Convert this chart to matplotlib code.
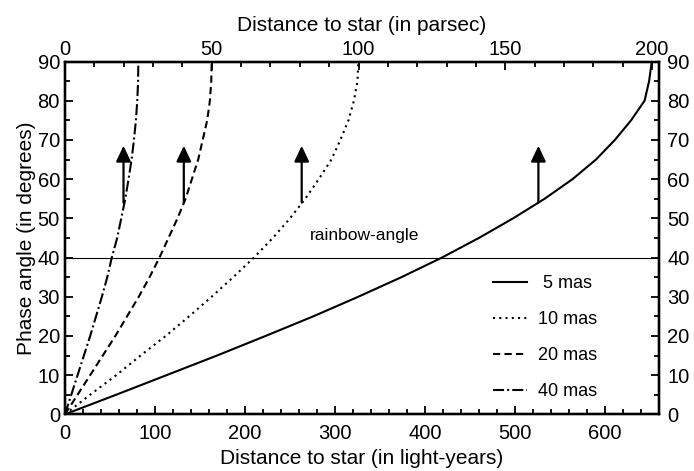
import matplotlib
matplotlib.use("Agg")
import matplotlib.pyplot as plt
from matplotlib.ticker import MultipleLocator

plt.rcParams['font.family'] = ['Liberation Sans', 'DejaVu Sans']

# phase angle samples (degrees) and distances (light-years)
angle = [0, 5, 10, 15, 20, 25, 30, 35, 40, 45, 50, 55, 60, 65, 70, 75, 80, 85, 90]
dist_5mas = [0, 57, 113, 169, 223, 276, 326, 374, 419, 460, 498, 533, 564, 590, 611, 629, 644, 649, 652]
dist_10mas = [0, 28, 57, 84, 112, 138, 163, 187, 210, 231, 250, 267, 282, 296, 306, 315, 321, 325, 326]
dist_20mas = [0, 14, 28, 42, 56, 69, 82, 94, 105, 115, 125, 134, 141, 148, 153, 158, 161, 162.5, 163]
dist_40mas = [0, 7, 14, 21, 28, 34.5, 41, 47, 52, 58, 62.5, 67, 70.6, 74, 76.6, 78.8, 80.3, 81.2, 81.5]
labels = [' 5 mas', '10 mas', '20 mas', '40 mas']

# arrows (light-years, degrees)
arrow_x = [526, 263, 132, 65]
arrow_base = 54
arrow_tip = 68.5
rainbow = 40

LY_PER_PC = 3.2616
XMAX = 660

fig = plt.figure(figsize=(6.94, 4.71), dpi=100)
ax = fig.add_axes([65 / 694, 1 - 414.3 / 471, 594 / 694, 352.8 / 471])

styles = ['-', (0, (1, 2)), (0, (3.5, 2)), (0, (5.3, 1.5, 0.95, 1.5))]
series = [dist_5mas, dist_10mas, dist_20mas, dist_40mas]
for d, ls, lab in zip(series, styles, labels):
    ax.plot(d, angle, color='black', lw=1.5, linestyle=ls, label=lab)

ax.axhline(rainbow, color='black', lw=0.8)
ax.text(333, 45.6, 'rainbow-angle', ha='center', va='center', fontsize=12.5)

for xa in arrow_x:
    ax.annotate('', xy=(xa, arrow_tip), xytext=(xa, arrow_base),
                arrowprops=dict(arrowstyle='-|>,head_width=0.45,head_length=0.95',
                                color='black', lw=1.6, shrinkA=0, shrinkB=0))

ax.set_xlim(0, XMAX)
ax.set_ylim(0, 90)
ax.xaxis.set_major_locator(MultipleLocator(100))
ax.xaxis.set_minor_locator(MultipleLocator(20))
ax.yaxis.set_major_locator(MultipleLocator(10))
ax.yaxis.set_minor_locator(MultipleLocator(5))
ax.tick_params(which='both', direction='in', labelsize=14.5, width=1.3)
ax.tick_params(which='major', length=6)
ax.tick_params(which='minor', length=3.5)
ax.tick_params(axis='x', pad=6.8)
ax.tick_params(axis='y', pad=3.6)
for s in ax.spines.values():
    s.set_linewidth(1.6)

ax.set_xlabel('Distance to star (in light-years)', fontsize=15, labelpad=4.5)
ax.set_ylabel('Phase angle (in degrees)', fontsize=15, labelpad=1.5)

top = ax.twiny()
top.set_xlim(0, XMAX / LY_PER_PC)
top.xaxis.set_major_locator(MultipleLocator(50))
top.xaxis.set_minor_locator(MultipleLocator(10))
top.tick_params(which='both', direction='in', labelsize=14.5, width=1.3, pad=1.5)
top.tick_params(which='major', length=6)
top.tick_params(which='minor', length=3.5)
top.set_xlabel('Distance to star (in parsec)', fontsize=15, labelpad=7)

right = ax.twinx()
right.set_ylim(0, 90)
right.yaxis.set_major_locator(MultipleLocator(10))
right.yaxis.set_minor_locator(MultipleLocator(5))
right.tick_params(which='both', direction='in', labelsize=14.5, width=1.3, pad=6)
right.tick_params(which='major', length=6)
right.tick_params(which='minor', length=3.5)
for a in (top, right):
    for s in a.spines.values():
        s.set_linewidth(1.6)

ax.legend(loc='upper left', bbox_to_anchor=(0.708, 0.415), frameon=False, fontsize=13,
          handlelength=1.88, handletextpad=0.6, labelspacing=1.05, borderaxespad=0)

fig.savefig('out.png', dpi=100)
